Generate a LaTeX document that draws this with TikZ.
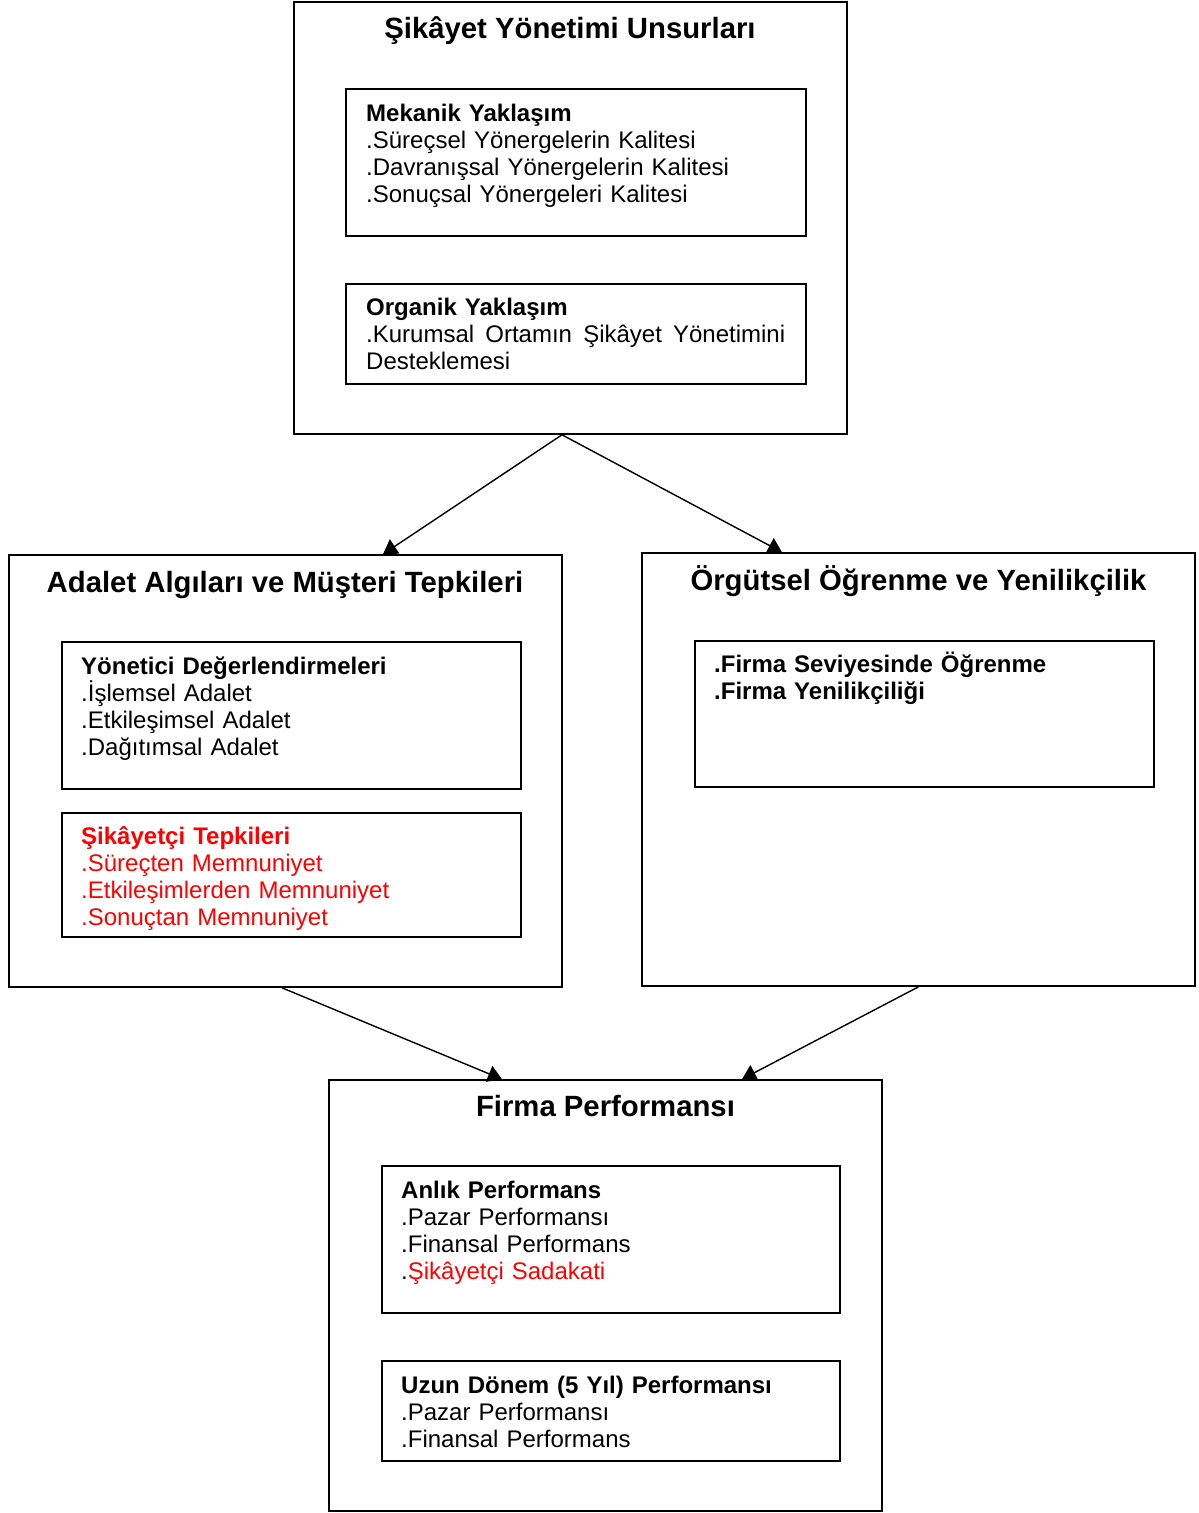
\documentclass[tikz,border=0pt]{standalone}
\usepackage{fontspec}
\setmainfont{Liberation Sans}
\usetikzlibrary{arrows.meta}
\begin{document}
\begin{tikzpicture}[x=1pt,y=-1pt,
  box/.style={draw, rectangle, line width=1.6pt, inner sep=0pt},
  txt/.style={anchor=north west, inner sep=0pt, text width=450pt, align=left, font=\fontsize{24}{27}\selectfont},
  ttl/.style={anchor=base, inner sep=0pt, font=\fontsize{29.3}{33}\selectfont\bfseries},
  arr/.style={-{Triangle[length=14pt,width=17pt]}, line width=1.4pt}]
\useasboundingbox (0,0) rectangle (1199,1513);
% outer boxes
\node[box, minimum width=553pt, minimum height=432pt] (top) at (570.5,218) {};
\node[box, minimum width=553pt, minimum height=432pt] (adalet) at (285.5,771) {};
\node[box, minimum width=553pt, minimum height=433pt] (orgut) at (918.5,769.5) {};
\node[box, minimum width=553pt, minimum height=431pt] (perf) at (605.5,1295.5) {};
% inner boxes
\node[box, minimum width=460pt, minimum height=147pt] (mek) at (576,162.5) {};
\node[box, minimum width=460pt, minimum height=100pt] (org) at (576,334) {};
\node[box, minimum width=459pt, minimum height=147pt] (yon) at (291.5,715.5) {};
\node[box, minimum width=459pt, minimum height=124pt] (sik) at (291.5,875) {};
\node[box, minimum width=459pt, minimum height=146pt] (firma) at (924.5,714) {};
\node[box, minimum width=458pt, minimum height=147pt] (anlik) at (611,1239.5) {};
\node[box, minimum width=458pt, minimum height=100pt] (uzun) at (611,1411) {};
% titles
\node[ttl] (ttop) at (570,38) {Şikâyet Yönetimi Unsurları};
\node[ttl] (tadalet) at (285,592) {Adalet Algıları ve Müşteri Tepkileri};
\node[ttl] (torgut) at (918.5,590) {Örgütsel Öğrenme ve Yenilikçilik};
\node[ttl] (tperf) at (605.5,1116) {Firma Performansı};
% texts
\node[txt] (xmek) at (366,99) {\rule{0pt}{22pt}\textbf{Mekanik Yaklaşım}\\
.Süreçsel Yönergelerin Kalitesi\\
.Davranışsal Yönergelerin Kalitesi\\
.Sonuçsal Yönergeleri Kalitesi};
\node[txt] (xorg) at (366,293) {\rule{0pt}{22pt}\textbf{Organik Yaklaşım}\\
\makebox[419pt][l]{.Kurumsal\hfill Ortamın\hfill Şikâyet\hfill Yönetimini}\\
Desteklemesi};
\node[txt] (xyon) at (81,652) {\rule{0pt}{22pt}\textbf{Yönetici Değerlendirmeleri}\\
.İşlemsel Adalet\\
.Etkileşimsel Adalet\\
.Dağıtımsal Adalet};
\node[txt, text=red] (xsik) at (81,822) {\rule{0pt}{22pt}\textbf{Şikâyetçi Tepkileri}\\
.Süreçten Memnuniyet\\
.Etkileşimlerden Memnuniyet\\
.Sonuçtan Memnuniyet};
\node[txt, font=\fontsize{24}{27}\selectfont\bfseries] (xfirma) at (714,650) {\rule{0pt}{22pt}.Firma Seviyesinde Öğrenme\\
.Firma Yenilikçiliği};
\node[txt] (xanlik) at (401,1176) {\rule{0pt}{22pt}\textbf{Anlık Performans}\\
.Pazar Performansı\\
.Finansal Performans\\
.{\color{red}Şikâyetçi Sadakati}};
\node[txt] (xuzun) at (401,1371) {\rule{0pt}{22pt}\textbf{Uzun Dönem (5 Yıl) Performansı}\\
.Pazar Performansı\\
.Finansal Performans};
% connectors
\draw[arr] ([xshift=-8.5pt]top.south) -- ([xshift=97.5pt]adalet.north);
\draw[arr] ([xshift=-8.5pt]top.south) -- ([xshift=-136.5pt]orgut.north);
\draw[arr] ([xshift=-3.5pt]adalet.south) -- ([xshift=-103.5pt]perf.north);
\draw[arr] (orgut.south) -- ([xshift=136.5pt]perf.north);
\end{tikzpicture}
\end{document}
